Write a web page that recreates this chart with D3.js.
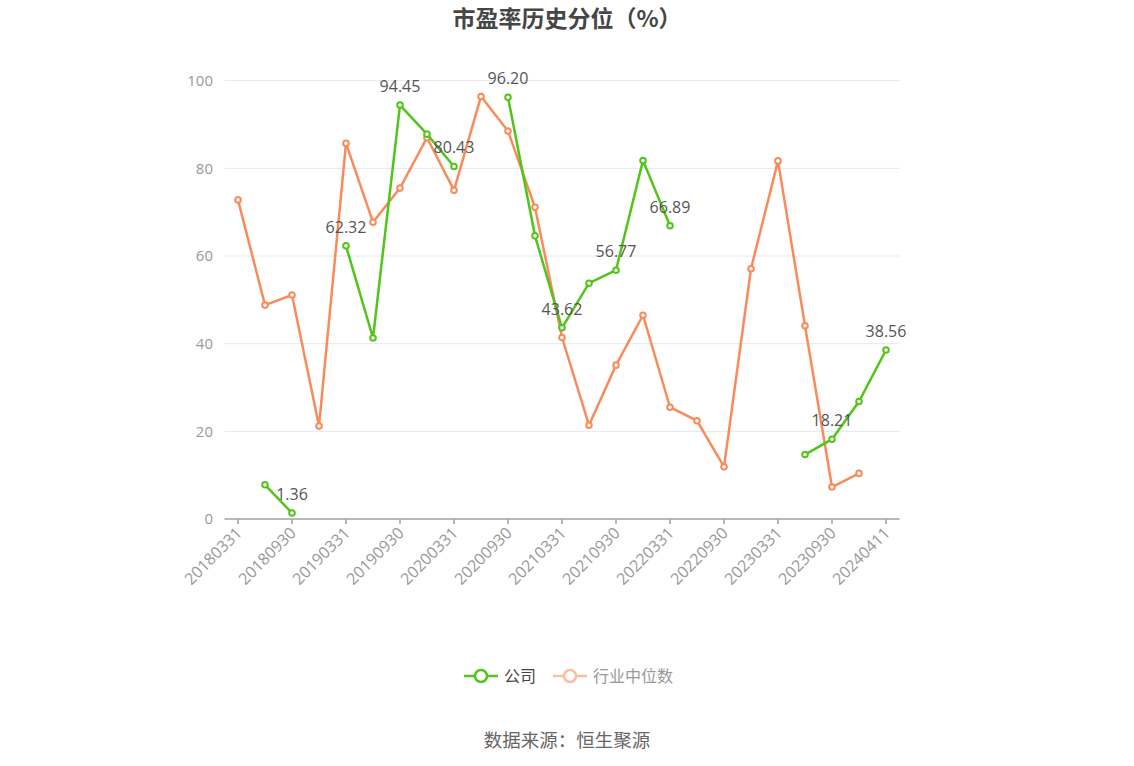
<!DOCTYPE html>
<html>
<head>
<meta charset="utf-8">
<script src="https://cdn.jsdelivr.net/npm/d3@7"></script>
<style>
  body { margin: 0; background: #fff; }
  svg { font-family: "Open Sans", "Noto Sans CJK SC", sans-serif; }
  .cjk { font-family: "Noto Sans CJK SC", sans-serif; }
</style>
</head>
<body>
<div id="chart"></div>
<script>
// 期间
const dates = ["20180331","20180630","20180930","20181231","20190331","20190630","20190930","20191231",
  "20200331","20200630","20200930","20201231","20210331","20210630","20210930","20211231",
  "20220331","20220630","20220930","20221231","20230331","20230630","20230930","20231231","20240411"];
// 公司 (null = 断开)
const company = [null, 7.8, 1.36, null, 62.32, 41.3, 94.45, 87.8,
  80.43, null, 96.20, 64.6, 43.62, 53.8, 56.77, 81.8,
  66.89, null, null, null, null, 14.7, 18.21, 26.8, 38.56];
// 行业中位数
const industry = [72.8, 48.8, 51.1, 21.2, 85.7, 67.7, 75.5, 87.0,
  75.0, 96.4, 88.5, 71.1, 41.4, 21.4, 35.1, 46.5,
  25.5, 22.4, 11.9, 57.1, 81.7, 44.1, 7.3, 10.4, null];
const yTicks = [0, 20, 40, 60, 80, 100];

const W = 1134, H = 766;
const green = "#52c41a", orange = "#f98b5b";
const svg = d3.select("#chart").append("svg").attr("width", W).attr("height", H);

const x = d3.scaleBand().domain(dates).range([224.5, 899.5]);
const y = d3.scaleLinear().domain([0, 100]).range([519, 80.7]);
const cx = d => x(d) + x.bandwidth() / 2;

// 标题
svg.append("text")
  .attr("class", "cjk")
  .attr("x", 567).attr("y", 27)
  .attr("text-anchor", "middle")
  .attr("font-size", 23).attr("font-weight", "bold")
  .attr("fill", "#464646")
  .text("市盈率历史分位（%）");

// 网格线 + y 轴标签
const yAxis = svg.append("g");
yTicks.forEach(t => {
  if (t > 0) {
    yAxis.append("line")
      .attr("x1", 224.5).attr("x2", 899.5)
      .attr("y1", y(t)).attr("y2", y(t))
      .attr("stroke", "#e3e7f1").attr("stroke-width", 1);
  }
  yAxis.append("text")
    .attr("x", 213).attr("y", y(t))
    .attr("dy", "0.35em")
    .attr("text-anchor", "end")
    .attr("font-size", 15).attr("fill", "#999")
    .text(t);
});

// x 轴
const xAxis = svg.append("g").attr("transform", "translate(0," + y(0) + ")");
xAxis.append("line")
  .attr("x1", 224.5).attr("x2", 899.5)
  .attr("stroke", "#9ba0aa").attr("stroke-width", 1.5);
dates.forEach((d, i) => {
  if (i % 2 !== 0) return;
  xAxis.append("line")
    .attr("x1", cx(d)).attr("x2", cx(d))
    .attr("y1", 0).attr("y2", 5)
    .attr("stroke", "#9ba0aa").attr("stroke-width", 1.5);
  xAxis.append("text")
    .attr("transform", "translate(" + (cx(d) + 1) + ",11) rotate(-45)")
    .attr("text-anchor", "end")
    .attr("dy", "0.35em")
    .attr("font-size", 16).attr("fill", "#999")
    .text(d);
});

function drawSeries(vals, color) {
  const line = d3.line()
    .defined(v => v != null)
    .x((v, i) => cx(dates[i]))
    .y(v => y(v));
  svg.append("path")
    .datum(vals)
    .attr("d", line)
    .attr("fill", "none")
    .attr("stroke", color)
    .attr("stroke-width", 2.5);
  svg.append("g").selectAll("circle")
    .data(vals.map((v, i) => ({ v, i })).filter(p => p.v != null))
    .join("circle")
    .attr("cx", p => cx(dates[p.i]))
    .attr("cy", p => y(p.v))
    .attr("r", 2.8)
    .attr("fill", "#fff")
    .attr("stroke", color)
    .attr("stroke-width", 2);
}

drawSeries(industry, orange);
drawSeries(company, green);

// 数据标签 (公司, 每隔一个期间)
svg.append("g").selectAll("text")
  .data(company.map((v, i) => ({ v, i })).filter(p => p.v != null && p.i % 2 === 0))
  .join("text")
  .attr("x", p => cx(dates[p.i]))
  .attr("y", p => y(p.v) - 13)
  .attr("text-anchor", "middle")
  .attr("font-size", 16).attr("fill", "#555")
  .text(p => p.v.toFixed(2));

// 图例
const legend = [
  { name: "公司", color: green, text: "#444", x: 464 },
  { name: "行业中位数", color: "#fbbea4", text: "#999", x: 553 }
];
legend.forEach(l => {
  const g = svg.append("g").attr("transform", "translate(" + l.x + ",676)");
  g.append("line").attr("x1", 0).attr("x2", 34).attr("stroke", l.color).attr("stroke-width", 2.5);
  g.append("circle").attr("cx", 17).attr("r", 6).attr("fill", "#fff").attr("stroke", l.color).attr("stroke-width", 2.5);
  g.append("text").attr("class", "cjk").attr("x", 40).attr("dy", "0.35em")
    .attr("font-size", 16).attr("fill", l.text).text(l.name);
});

// 数据来源
svg.append("text")
  .attr("class", "cjk")
  .attr("x", 567).attr("y", 741)
  .attr("dy", "0.35em")
  .attr("text-anchor", "middle")
  .attr("font-size", 18.5).attr("fill", "#666")
  .text("数据来源：恒生聚源");
</script>
</body>
</html>
